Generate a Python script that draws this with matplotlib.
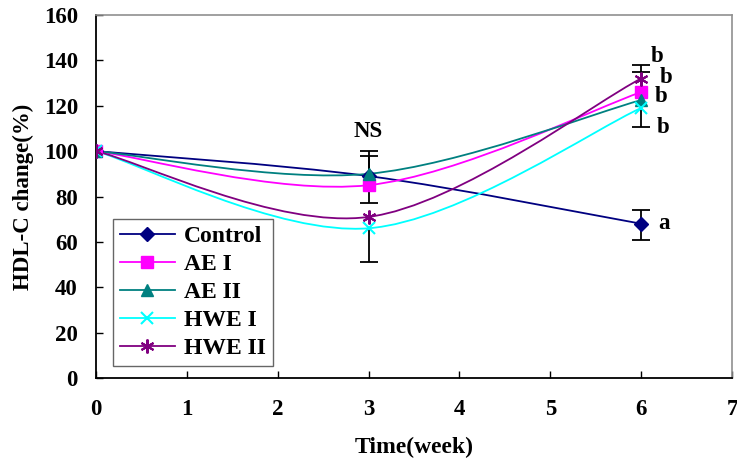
import matplotlib
matplotlib.use("Agg")
import matplotlib.pyplot as plt
from matplotlib.path import Path
from matplotlib.patches import PathPatch
from matplotlib.lines import Line2D
import numpy as np

plt.rcParams['font.family'] = ['Liberation Serif', 'DejaVu Serif']
plt.rcParams['font.weight'] = 'bold'

# data
weeks = [0, 3, 6]
names = ["Control", "AE I", "AE II", "HWE I", "HWE II"]
control = [100, 89, 68]
ae1 = [100, 85, 126]
ae2 = [100, 90, 122.5]
hwe1 = [100, 66, 119]
hwe2 = [100, 71, 132]
# (lower, upper) error for each point
control_err = [(0, 0), (0, 0), (7, 6)]
ae1_err = [(0, 0), (8, 13), (0, 9)]
ae2_err = [(0, 0), (0, 10), (12, 0)]
hwe1_err = [(0, 0), (15, 0), (0, 0)]
hwe2_err = [(0, 0), (0, 0), (0, 6)]
sig_labels = [("NS", 3, 108.5), ("b", 6.17, 141.5), ("b", 6.27, 132.5),
              ("b", 6.22, 124), ("b", 6.24, 110.5), ("a", 6.25, 68)]

series = [control, ae1, ae2, hwe1, hwe2]
errs = [control_err, ae1_err, ae2_err, hwe1_err, hwe2_err]
colors = ["#000080", "#FF00FF", "#008080", "#00FFFF", "#800080"]
markers = ["D", "s", "^", "x", (6, 2, 0)]
msizes = [7, 9, 8, 9, 10]

FS = 16.5


def smooth_path(x, y):
    # excel-like smoothed line: cubic bezier through the points
    pts = np.column_stack([x, y]).astype(float)
    n = len(pts)
    verts = [pts[0]]
    codes = [Path.MOVETO]
    for i in range(n - 1):
        p0 = pts[i - 1] if i > 0 else pts[i]
        p1 = pts[i]
        p2 = pts[i + 1]
        p3 = pts[i + 2] if i + 2 < n else pts[i + 1]
        c1 = p1 + (p2 - p0) / 6.0
        c2 = p2 - (p3 - p1) / 6.0
        verts += [c1, c2, p2]
        codes += [Path.CURVE4] * 3
    return Path(verts, codes)


fig = plt.figure(figsize=(7.37, 4.61), dpi=100)
ax = fig.add_axes([0.1303, 0.180, 0.8629, 0.7875])

handles = []
for s, e, c, m, ms, nm in zip(series, errs, colors, markers, msizes, names):
    ax.add_patch(PathPatch(smooth_path(weeks, s), facecolor='none',
                           edgecolor=c, lw=1.3, zorder=2))
    for xw, yv, (lo, hi) in zip(weeks, s, e):
        if lo == 0 and hi == 0:
            continue
        ax.vlines(xw, yv - lo, yv + hi, color='black', lw=1.3, zorder=3)
        for cap, d in ((yv - lo, lo), (yv + hi, hi)):
            if d > 0:
                ax.plot([xw], [cap], marker='_', ms=13, mew=1.3,
                        color='black', zorder=3)
    mew = 1.5 if m in ("x",) or isinstance(m, tuple) else 1
    ax.plot(weeks, s, ls='none', marker=m, ms=ms, color=c, mec=c, mew=mew,
            zorder=4)
    handles.append(Line2D([], [], color=c, lw=1.3, marker=m, ms=ms, mec=c,
                          mew=mew))

for txt, xt, yt in sig_labels:
    ax.text(xt, yt, txt, fontsize=FS, fontweight='bold', ha='center',
            va='center')

ax.set_xlim(0, 7)
ax.set_ylim(0, 160)
ax.set_xticks(range(0, 8))
ax.set_yticks(range(0, 161, 20))
ax.tick_params(direction='in', length=5, width=1, labelsize=FS)
ax.tick_params(axis='y', pad=13)
ax.tick_params(axis='x', pad=15)
for lab in ax.get_xticklabels() + ax.get_yticklabels():
    lab.set_fontweight('bold')
for sp in ('top', 'right'):
    ax.spines[sp].set_color('#909090')
    ax.spines[sp].set_linewidth(1.2)
for sp in ('left', 'bottom'):
    ax.spines[sp].set_linewidth(1.3)

ax.set_xlabel("Time(week)", fontsize=17, fontweight='bold', labelpad=12)
ax.set_ylabel("HDL-C change(%)", fontsize=16.5, fontweight='bold', labelpad=7)

leg = ax.legend(handles, names, loc='lower left',
                bbox_to_anchor=(0.027, 0.033), fontsize=17, frameon=True,
                fancybox=False, borderpad=0.3, labelspacing=0.27,
                handlelength=2.3, handletextpad=0.4, borderaxespad=0)
leg.get_frame().set_edgecolor('#404040')
leg.get_frame().set_linewidth(1.0)
for t in leg.get_texts():
    t.set_fontweight('bold')

fig.savefig("out.png", dpi=100)
